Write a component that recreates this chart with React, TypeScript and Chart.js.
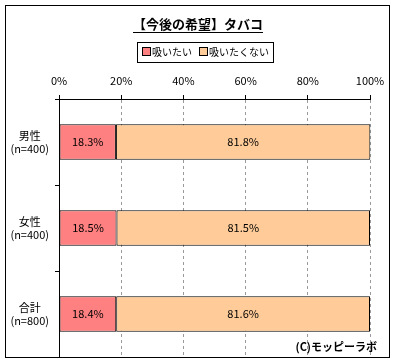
import React, { useEffect, useRef } from "react";
import { Chart, registerables } from "chart.js";

Chart.register(...registerables);

const title = "【今後の希望】タバコ";
const categories = [["男性", "(n=400)"], ["女性", "(n=400)"], ["合計", "(n=800)"]];
const seriesNames = ["吸いたい", "吸いたくない"];
const wantValues = [18.3, 18.5, 18.4];
const notWantValues = [81.8, 81.5, 81.6];
const xTicks = [0, 20, 40, 60, 80, 100];
const credit = "(C)モッピーラボ";

const COLORS = ["#FF8080", "#FFCC99"];
const FONT = "'Noto Sans CJK JP', 'Noto Sans', sans-serif";

export default function App() {
  const ref = useRef<HTMLCanvasElement | null>(null);
  useEffect(() => {
    document.body.style.margin = "0";
    const canvas = ref.current!;
    const decor = {
      id: "decor",
      beforeDraw(chart: any) {
        const c = chart.ctx;
        c.save();
        c.fillStyle = "#fff";
        c.fillRect(0, 0, chart.width, chart.height);
        c.restore();
      },
      afterDatasetsDraw(chart: any) {
        const c = chart.ctx;
        c.save();
        c.font = `11px ${FONT}`;
        c.fillStyle = "#000";
        c.textAlign = "center";
        c.textBaseline = "middle";
        chart.data.datasets.forEach((ds: any, di: number) => {
          const meta = chart.getDatasetMeta(di);
          meta.data.forEach((el: any, i: number) => {
            const v = ds.data[i];
            const cx = (el.x + el.base) / 2;
            c.fillText(v.toFixed(1) + "%", cx, el.y);
          });
        });
        c.restore();
      },
      afterDraw(chart: any) {
        const c = chart.ctx;
        c.save();
        c.strokeStyle = "#000";
        c.lineWidth = 1;
        c.strokeRect(5.5, 5.5, 384, 352);
        c.font = `bold 13px ${FONT}`;
        c.fillStyle = "#000";
        c.textAlign = "center";
        c.textBaseline = "middle";
        const tx = 198;
        const ty = 24;
        c.fillText(title, tx, ty);
        const tw = c.measureText(title).width;
        c.beginPath();
        c.moveTo(tx - tw / 2, 32.5);
        c.lineTo(tx + tw / 2, 32.5);
        c.stroke();
        c.strokeRect(137.5, 42.5, 136, 20);
        c.font = `10px ${FONT}`;
        c.textAlign = "left";
        const items = [
          { x: 142, label: seriesNames[0], color: COLORS[0] },
          { x: 199, label: seriesNames[1], color: COLORS[1] },
        ];
        items.forEach((it) => {
          c.fillStyle = it.color;
          c.fillRect(it.x + 0.5, 47.5, 8, 8);
          c.strokeRect(it.x + 0.5, 47.5, 8, 8);
          c.fillStyle = "#000";
          c.fillText(it.label, it.x + 10, 52);
        });
        c.font = `bold 11px ${FONT}`;
        c.textAlign = "right";
        c.fillText(credit, 377, 347);
        c.restore();
      },
    };

    const chart = new Chart(canvas, {
      type: "bar",
      data: {
        labels: categories as any,
        datasets: [
          {
            label: seriesNames[0],
            data: wantValues,
            backgroundColor: COLORS[0],
            borderColor: "#000",
            borderWidth: 1,
            borderSkipped: false,
          },
          {
            label: seriesNames[1],
            data: notWantValues,
            backgroundColor: COLORS[1],
            borderColor: "#000",
            borderWidth: 1,
            borderSkipped: false,
            clip: 3,
          },
        ],
      },
      options: {
        indexAxis: "y",
        responsive: false,
        animation: false,
        events: [],
        barPercentage: 0.41,
        categoryPercentage: 1,
        layout: { padding: { top: 64, left: 0, right: 25, bottom: 6 } },
        font: { family: FONT },
        plugins: {
          legend: { display: false },
          title: { display: false },
          tooltip: { enabled: false },
        },
        scales: {
          x: {
            position: "top",
            stacked: true,
            min: 0,
            max: 100,
            afterBuildTicks: (scale: any) => {
              scale.ticks = xTicks.map((v) => ({ value: v }));
            },
            afterFit: (scale: any) => {
              scale.height = 35;
              scale.paddingLeft = 0;
              scale.paddingRight = 0;
            },
            ticks: {
              color: "#000",
              font: { family: FONT, size: 11 },
              padding: 8,
              callback: (v: any) => v + "%",
              maxRotation: 0,
            },
            grid: {
              color: (ctx: any) => (ctx.index === 0 ? "rgba(0,0,0,0)" : "#9a9a9a"),
              tickColor: "#000",
              tickLength: 4,
            },
            border: { display: true, color: "#000", dash: [3, 3] },
          },
          y: {
            stacked: true,
            afterFit: (scale: any) => {
              scale.width = 59;
              scale.paddingTop = 0;
              scale.paddingBottom = 0;
            },
            ticks: {
              color: "#000",
              font: { family: FONT, size: 11 },
              crossAlign: "center",
              padding: 6,
            },
            grid: {
              offset: true,
              drawOnChartArea: false,
              color: "#000",
              tickLength: 4,
            },
            border: { display: true, color: "#000" },
          },
        },
      } as any,
      plugins: [decor],
    });
    return () => chart.destroy();
  }, []);
  return (
    <div style={{ position: "absolute", left: 0, top: 0, width: 395, height: 363 }}>
      <canvas ref={ref} width={395} height={363} style={{ width: 395, height: 363 }} />
    </div>
  );
}
